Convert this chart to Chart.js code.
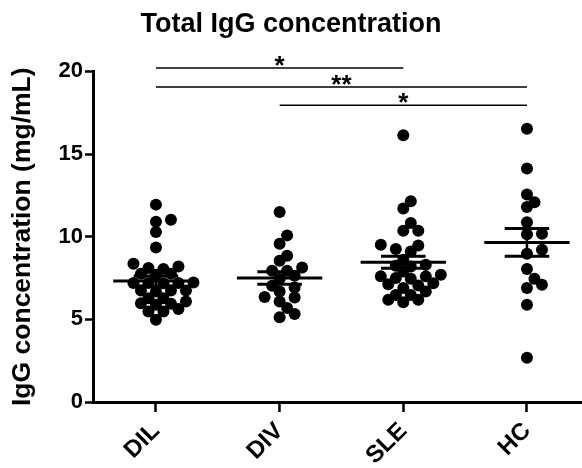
<!DOCTYPE html>
<html>
<head>
<meta charset="utf-8">
<script src="https://cdn.jsdelivr.net/npm/chart.js@4.4.0/dist/chart.umd.min.js"></script>
<style>
  html, body { margin: 0; padding: 0; background: #fff; }
  #wrap { width: 582px; height: 468px; }
</style>
</head>
<body>
<div id="wrap"><canvas id="iggChart"></canvas></div>
<script>
"use strict";

// data (mg/mL)
const groups = ["DIL", "DIV", "SLE", "HC"];
const dilValues = [11.94, 11.03, 10.9, 10.28, 9.35, 8.36, 8.2, 8.1, 8.04, 7.76, 7.76, 7.7,
  7.23, 7.2, 7.2, 7.2, 7.19, 6.75, 6.75, 6.75, 6.69, 6.28, 6.28, 6.08, 5.98, 5.94, 5.88,
  5.62, 5.47, 5.47, 4.97];
const divValues = [11.5, 10.08, 9.58, 8.85, 8.55, 8.14, 7.94, 7.94, 7.64, 7.44, 7.03, 6.93,
  6.69, 6.35, 6.32, 6.08, 5.68, 5.33, 5.13];
const sleValues = [16.14, 12.14, 11.7, 10.83, 10.36, 10.36, 9.52, 9.47, 9.25, 9.11, 8.6, 8.3,
  8.24, 8.2, 7.9, 7.7, 7.6, 7.6, 7.5, 7.45, 7.19, 7.13, 7.05, 6.89, 6.69, 6.48, 6.48, 6.18,
  6.18, 6.04];
const hcValues = [16.53, 14.12, 12.55, 12.08, 11.8, 10.87, 10.18, 10.15, 9.21, 8.97, 8.04,
  7.45, 7.09, 6.89, 5.88, 2.68];
const groupMeans = [7.32, 7.5, 8.45, 9.65];
const groupSems = [0.31, 0.38, 0.36, 0.84];
const yTicks = [0, 5, 10, 15, 20];

// significance bars: groups compared, label, height in mg/mL
const comparisons = [
  { from: 0, to: 2, label: "*", level: 20.2 },
  { from: 0, to: 3, label: "**", level: 19.05 },
  { from: 1, to: 3, label: "*", level: 17.95 },
];

const allValues = [dilValues, divValues, sleValues, hcValues];
const FONT = "Arial, 'Liberation Sans', sans-serif";

// mean line + SEM whiskers on top of the dots
const meanSemPlugin = {
  id: "meanSem",
  afterDatasetsDraw(chart) {
    const { ctx, scales: { x, y } } = chart;
    const unit = x.getPixelForValue(1) - x.getPixelForValue(0);
    ctx.save();
    ctx.strokeStyle = "#000";
    ctx.lineCap = "butt";
    groupMeans.forEach((m, i) => {
      const cx = x.getPixelForValue(i);
      const yM = y.getPixelForValue(m);
      const yHi = y.getPixelForValue(m + groupSems[i]);
      const yLo = y.getPixelForValue(m - groupSems[i]);
      ctx.lineWidth = 3;
      ctx.beginPath();
      ctx.moveTo(cx - unit * 0.345, yM);
      ctx.lineTo(cx + unit * 0.345, yM);
      ctx.moveTo(cx - unit * 0.18, yHi);
      ctx.lineTo(cx + unit * 0.18, yHi);
      ctx.moveTo(cx - unit * 0.18, yLo);
      ctx.lineTo(cx + unit * 0.18, yLo);
      ctx.stroke();
      ctx.lineWidth = 2.5;
      ctx.beginPath();
      ctx.moveTo(cx, yHi);
      ctx.lineTo(cx, yLo);
      ctx.stroke();
    });
    ctx.restore();
  },
};

// significance lines above the plot
const bracketPlugin = {
  id: "brackets",
  afterDraw(chart) {
    const { ctx, scales: { x, y } } = chart;
    ctx.save();
    ctx.strokeStyle = "#000";
    ctx.fillStyle = "#000";
    ctx.lineWidth = 1.5;
    ctx.font = "bold 26px " + FONT;
    ctx.textAlign = "center";
    ctx.textBaseline = "alphabetic";
    comparisons.forEach((c) => {
      const x1 = x.getPixelForValue(c.from);
      const x2 = x.getPixelForValue(c.to);
      const py = y.getPixelForValue(c.level);
      ctx.beginPath();
      ctx.moveTo(x1, py);
      ctx.lineTo(x2, py);
      ctx.stroke();
      ctx.fillText(c.label, (x1 + x2) / 2, py + 5.5);
    });
    ctx.restore();
  },
};

const datasets = allValues.map((vals, gi) => ({
  label: groups[gi],
  data: vals.map((v) => ({ x: gi, y: v })),
  backgroundColor: "#000",
  borderWidth: 0,
  pointRadius: 6,
  pointHoverRadius: 6,
}));

const chart = new Chart(document.getElementById("iggChart"), {
  type: "scatter",
  data: { datasets },
  options: {
    responsive: true,
    maintainAspectRatio: false,
    animation: false,
    devicePixelRatio: 1,
    layout: { padding: 0, autoPadding: false },
    plugins: {
      legend: { display: false },
      tooltip: { enabled: false },
      title: {
        display: true,
        text: "Total IgG concentration",
        color: "#000",
        font: { family: FONT, size: 27, weight: "bold" },
        padding: { top: 8, bottom: 31 },
      },
    },
    scales: {
      x: {
        type: "linear",
        min: -0.509,
        max: 3.445,
        afterBuildTicks: (s) => { s.ticks = groups.map((g, i) => ({ value: i })); },
        afterFit: (s) => { s.height = 66; },
        ticks: {
          callback: (v) => groups[v],
          color: "#000",
          font: { family: FONT, size: 24, weight: "bold" },
          minRotation: 45,
          maxRotation: 45,
          padding: 5,
        },
        grid: { drawOnChartArea: false, drawTicks: true, tickLength: 10, tickWidth: 2.5, tickColor: "#000" },
        border: { display: true, width: 3, color: "#000" },
      },
      y: {
        min: 0,
        max: 20,
        afterBuildTicks: (s) => { s.ticks = yTicks.map((v) => ({ value: v })); },
        afterFit: (s) => { s.width = 93; },
        ticks: {
          color: "#000",
          font: { family: FONT, size: 22, weight: "bold" },
          padding: 2,
        },
        grid: { drawOnChartArea: false, drawTicks: true, tickLength: 8, tickWidth: 2.5, tickColor: "#000" },
        border: { display: true, width: 3, color: "#000" },
        title: {
          display: true,
          text: "IgG concentration (mg/mL)",
          color: "#000",
          font: { family: FONT, size: 26.5, weight: "bold" },
          padding: { top: 7, bottom: 0 },
        },
      },
    },
  },
  plugins: [meanSemPlugin, bracketPlugin],
});

// spread each column sideways: dots in the same row sit 2 steps apart,
// dots in neighbouring rows may overlap when shifted by one step
function swarmColumns() {
  const xs = chart.scales.x, ys = chart.scales.y;
  const unit = xs.getPixelForValue(1) - xs.getPixelForValue(0);
  const step = 7.5;
  const collides = (p, off, py) => {
    const dx = Math.abs(p.x - off), dy = Math.abs(p.y - py);
    return (dx < 14 && dy < 4.5) || (dx < 7 && dy < 10);
  };
  allValues.forEach((vals, gi) => {
    const placed = [];
    const order = vals.map((v, i) => i).sort((a, b) => vals[a] - vals[b]);
    order.forEach((i) => {
      const py = ys.getPixelForValue(vals[i]);
      let off = 0;
      for (let k = 0; k < 40; k++) {
        off = (k % 2 === 1 ? 1 : -1) * Math.ceil(k / 2) * step;
        if (!placed.some((p) => collides(p, off, py))) break;
      }
      placed.push({ x: off, y: py });
      chart.data.datasets[gi].data[i] = { x: gi + off / unit, y: vals[i] };
    });
  });
  chart.update("none");
}
swarmColumns();
</script>
</body>
</html>
